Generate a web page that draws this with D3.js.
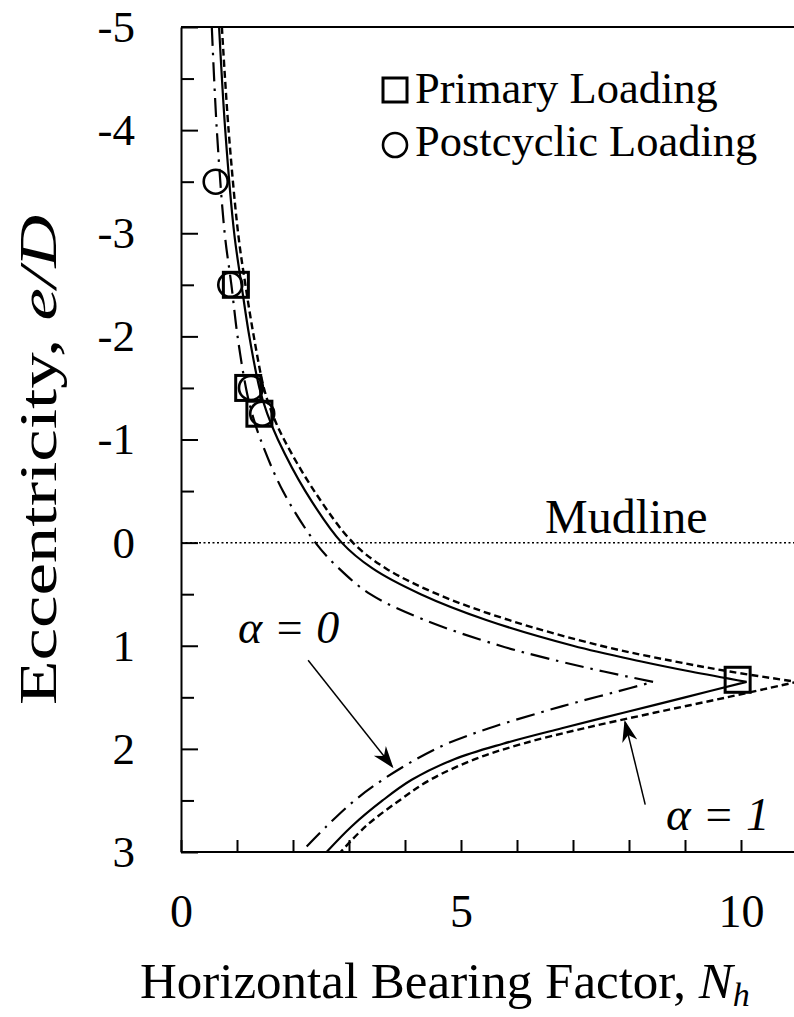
<!DOCTYPE html>
<html><head><meta charset="utf-8">
<script src="https://cdn.jsdelivr.net/npm/d3@7"></script>
<style>
body{margin:0;background:#fff}
svg{display:block;font-family:"Liberation Serif","Times New Roman",serif}
text{font-family:"Liberation Serif","Times New Roman",serif;fill:#000}
</style>
</head><body>
<svg id="chart" width="794" height="1017"></svg>
<script>
// ---------- data ----------
const xTickValues = [0, 5, 10];
const xMinorTicks = [0,1,2,3,4,5,6,7,8,9,10];
const yTickValues = [-5,-4,-3,-2,-1,0,1,2,3];
const yMinorTicks = [-4.5,-3.5,-2.5,-1.5,-0.5,0.5,1.5,2.5];

// alpha = 1 (solid) : upper / lower branch  (e/D, Nh)
const solidUpperE = [-5,-4,-3,-2.5,-2,-1.5,-1.25,-1,-0.5,0,0.25,0.5,0.75,1.0,1.15,1.25,1.35];
const solidUpperN = [0.68,0.79,0.95,1.08,1.22,1.40,1.54,1.73,2.22,2.87,3.42,4.28,5.45,7.0,8.2,9.1,10.1];
const solidLowerE = [1.35,1.5,1.65,1.8,1.95,2.1,2.3,2.5,2.75,3.0];
const solidLowerN = [10.1,9.0,7.9,6.8,5.75,4.88,4.12,3.6,3.05,2.6];

// short-dashed curve
const dashUpperE = [-5,-4,-3,-2.5,-2,-1.5,-1.25,-1,-0.5,0,0.25,0.5,0.75,1.0,1.15,1.25,1.35];
const dashUpperN = [0.73,0.85,1.02,1.15,1.30,1.48,1.63,1.84,2.38,3.07,3.66,4.58,5.85,7.5,8.8,9.8,11.0];
const dashLowerE = [1.35,1.5,1.65,1.8,1.95,2.1,2.3,2.5,2.75,3.0];
const dashLowerN = [11.0,9.75,8.45,7.2,6.1,5.25,4.45,3.9,3.3,2.85];

// alpha = 0 (dash-dot)
const dashDotUpperE = [-5,-4,-3,-2.5,-2,-1.5,-1.25,-1,-0.5,0,0.25,0.5,0.75,1.0,1.15,1.25,1.35];
const dashDotUpperN = [0.55,0.64,0.78,0.90,1.01,1.16,1.27,1.42,1.82,2.40,2.82,3.38,4.35,5.7,6.75,7.55,8.43];
const dashDotLowerE = [1.35,1.45,1.55,1.65,1.8,1.95,2.1,2.3,2.5,2.75,3.0];
const dashDotLowerN = [8.43,7.75,7.05,6.4,5.5,4.75,4.2,3.6,3.1,2.6,2.15];

// measured points
const primaryN = [0.98, 1.20, 1.40, 9.94];
const primaryE = [-2.5, -1.5, -1.25, 1.33];
const postcyclicN = [0.62, 0.88, 1.25, 1.45];
const postcyclicE = [-3.5, -2.5, -1.5, -1.25];

const legendLabels = ["Primary Loading", "Postcyclic Loading"];

// ---------- scales ----------
const svg = d3.select("#chart");
const W = 794;
const x = d3.scaleLinear().domain([0, 10]).range([181, 741]);
const y = d3.scaleLinear().domain([-5, 3]).range([27, 852]);

const defs = svg.append("defs");
defs.append("clipPath").attr("id","plotClip")
  .append("rect").attr("x", x(0)).attr("y", y(-5)).attr("width", W - x(0)).attr("height", y(3) - y(-5));
defs.append("marker").attr("id","arrow").attr("viewBox","0 0 20 20")
  .attr("refX",18).attr("refY",10).attr("markerWidth",22).attr("markerHeight",22)
  .attr("markerUnits","userSpaceOnUse").attr("orient","auto")
  .append("path").attr("d","M0,3 L20,10 L0,17 L6,10 Z").attr("fill","#000");

// ---------- axes ----------
const gAx = svg.append("g");
const yAxis = d3.axisLeft(y).tickValues(yTickValues).tickSizeInner(-17).tickSizeOuter(0)
  .tickFormat(d => String(d));
const yG = gAx.append("g").attr("transform", `translate(${x(0)},0)`).call(yAxis);
yG.attr("font-family", null);
yG.select(".domain").attr("stroke-width", 2);
yG.selectAll(".tick line").attr("stroke-width", 2);
yG.selectAll(".tick text").attr("font-size", 45)
  .attr("text-anchor","end").attr("x", -46);

const yMinor = d3.axisLeft(y).tickValues(yMinorTicks).tickSizeInner(-13).tickSizeOuter(0).tickFormat("");
const yMG = gAx.append("g").attr("transform", `translate(${x(0)},0)`).call(yMinor);
yMG.select(".domain").remove();
yMG.selectAll(".tick line").attr("stroke-width", 2);

const xAxisMinor = d3.axisBottom(x).tickValues(xMinorTicks).tickSizeInner(-12).tickSizeOuter(0).tickFormat("");
const xG = gAx.append("g").attr("transform", `translate(0,${y(3)})`).call(xAxisMinor);
xG.select(".domain").remove();
xG.selectAll(".tick line").attr("stroke-width", 2);

const xLabels = d3.axisBottom(x).tickValues(xTickValues).tickSize(0).tickPadding(0).tickFormat(d => String(d));
const xLG = gAx.append("g").attr("transform", `translate(0,${y(3)})`).call(xLabels);
xLG.attr("font-family", null);
xLG.select(".domain").remove();
xLG.selectAll(".tick text").attr("font-size", 46).attr("dy", null).attr("y", 75);

// frame lines (bottom and top)
gAx.append("line").attr("x1", x(0)).attr("x2", W).attr("y1", y(3)).attr("y2", y(3))
  .attr("stroke","#000").attr("stroke-width",2);
gAx.append("line").attr("x1", x(0)).attr("x2", W).attr("y1", y(-5)).attr("y2", y(-5))
  .attr("stroke","#000").attr("stroke-width",2);

// mudline
svg.append("line").attr("x1", x(0)).attr("x2", W).attr("y1", y(0)).attr("y2", y(0))
  .attr("stroke","#000").attr("stroke-width",1.5).attr("stroke-dasharray","2,2.5");
svg.append("text").attr("x", 545).attr("y", y(0) - 10).attr("font-size", 48).text("Mudline");

// ---------- curves ----------
const plot = svg.append("g").attr("clip-path","url(#plotClip)");
const zip = (E, N) => E.map((e, i) => ({e, n: N[i]}));
const line = d3.line().x(d => x(d.n)).y(d => y(d.e)).curve(d3.curveCatmullRom.alpha(0.5));
function branchPath(uE, uN, lE, lN) {
  const a = line(zip(uE, uN));
  const b = line(zip(lE, lN));
  return a + b.replace(/^M[^LC]*/, "");
}
const curves = [
  {d: branchPath(dashDotUpperE, dashDotUpperN, dashDotLowerE, dashDotLowerN), dash: "19,7,2.5,7", w: 2.2},
  {d: branchPath(solidUpperE, solidUpperN, solidLowerE, solidLowerN), dash: null, w: 2.2},
  {d: branchPath(dashUpperE, dashUpperN, dashLowerE, dashLowerN), dash: "7,4", w: 2.4}
];
plot.selectAll("path.curve").data(curves).join("path").attr("class","curve")
  .attr("d", d => d.d).attr("fill","none").attr("stroke","#000")
  .attr("stroke-width", d => d.w).attr("stroke-dasharray", d => d.dash);

// ---------- markers ----------
const S = 25;
plot.selectAll("rect.prim").data(zip(primaryE, primaryN)).join("rect").attr("class","prim")
  .attr("x", d => x(d.n) - S/2).attr("y", d => y(d.e) - S/2).attr("width", S).attr("height", S)
  .attr("fill","none").attr("stroke","#000").attr("stroke-width",3);
plot.selectAll("circle.post").data(zip(postcyclicE, postcyclicN)).join("circle").attr("class","post")
  .attr("cx", d => x(d.n)).attr("cy", d => y(d.e)).attr("r", 12)
  .attr("fill","none").attr("stroke","#000").attr("stroke-width",2.6);

// ---------- legend ----------
const leg = svg.append("g");
leg.append("rect").attr("x", 383).attr("y", 78).attr("width", 24).attr("height", 24)
  .attr("fill","none").attr("stroke","#000").attr("stroke-width",3);
leg.append("circle").attr("cx", 395).attr("cy", 145).attr("r", 12)
  .attr("fill","none").attr("stroke","#000").attr("stroke-width",2.6);
leg.selectAll("text").data(legendLabels).join("text")
  .attr("x", 415).attr("y", (d, i) => 103 + i * 53).attr("font-size", 44.5).text(d => d);

// ---------- annotations ----------
svg.append("line").attr("x1", x(2.27)).attr("y1", y(1.14)).attr("x2", x(3.77)).attr("y2", y(2.17))
  .attr("stroke","#000").attr("stroke-width",1.5).attr("marker-end","url(#arrow)");
svg.append("line").attr("x1", x(8.29)).attr("y1", y(2.54)).attr("x2", x(7.93)).attr("y2", y(1.74))
  .attr("stroke","#000").attr("stroke-width",1.5).attr("marker-end","url(#arrow)");
svg.append("text").attr("x", 238).attr("y", 643).attr("font-size", 46).attr("font-style","italic")
  .attr("xml:space","preserve").text("α = 0");
svg.append("text").attr("x", 666).attr("y", 830).attr("font-size", 47).attr("font-style","italic")
  .attr("xml:space","preserve").text("α = 1");

// ---------- axis titles ----------
const xt = svg.append("text").attr("x", 140).attr("y", 998).attr("font-size", 51);
xt.append("tspan").text("Horizontal Bearing Factor, ");
xt.append("tspan").attr("font-style","italic").text("N");
xt.append("tspan").attr("font-style","italic").attr("font-size", 34).attr("dy", 8).text("h");

const yt = svg.append("text").attr("transform", "translate(56,705) rotate(-90)").attr("font-size", 53)
  .attr("textLength", 490).attr("lengthAdjust", "spacingAndGlyphs");
yt.append("tspan").text("Eccentricity, ");
yt.append("tspan").attr("font-style","italic").text("e/D");
</script>
</body></html>
